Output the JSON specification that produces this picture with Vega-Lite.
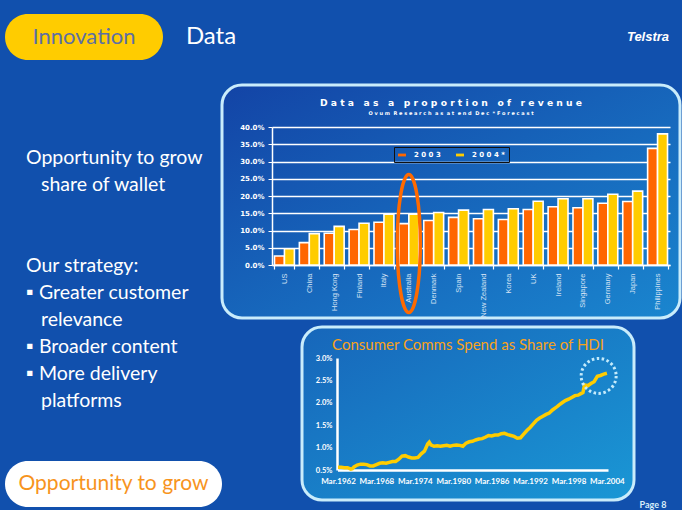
{
  "$schema": "https://vega.github.io/schema/vega-lite/v6.json",
  "background": "#1150ad",
  "padding": {"left": 5, "top": 14, "right": 0, "bottom": 0},
  "title": {"text": "Page 8", "orient": "bottom", "anchor": "end", "frame": "bounds", "offset": -6, "dx": -15, "fontSize": 9, "font": "Lato", "fontWeight": "bold", "color": "#d8eefa"},
  "spacing": 23,
  "vconcat": [
    {
      "spacing": 359,
      "hconcat": [
        {
          "spacing": 0,
          "hconcat": [
            {
              "width": 158, "height": 46,
              "view": {"fill": "#ffcc00", "stroke": null, "cornerRadius": 23},
              "data": {"values": [{"label": "Innovation"}]},
              "mark": {"type": "text", "font": "Lato", "fontSize": 22, "color": "#5d6fa4"},
              "encoding": {"text": {"field": "label", "type": "nominal"}}
            },
            {
              "width": 96, "height": 46,
              "data": {"values": [{"label": "Data"}]},
              "mark": {"type": "text", "font": "Lato", "fontSize": 24, "color": "white"},
              "encoding": {"text": {"field": "label", "type": "nominal"}}
            }
          ]
        },
        {
          "width": 60, "height": 46,
          "data": {"values": [{"label": "Telstra"}]},
          "mark": {"type": "text", "font": "Liberation Sans", "fontSize": 13, "fontWeight": "bold", "fontStyle": "italic", "color": "white"},
          "encoding": {"text": {"field": "label", "type": "nominal"}}
        }
      ]
    },
    {
      "spacing": -6,
      "hconcat": [
        {
          "spacing": 50,
          "vconcat": [
            {
              "width": 42, "height": 128,
              "data": {"values": [{"lines": ["Opportunity to grow", "\u200b\u00a0\u00a0\u00a0share of wallet", "\u200b", "\u200b", "Our strategy:", "\u25aa Greater customer", "\u200b\u00a0\u00a0\u00a0relevance", "\u25aa Broader content", "\u25aa More delivery", "\u200b\u00a0\u00a0\u00a0platforms"]}]},
              "mark": {"type": "text", "align": "left", "baseline": "top", "font": "Lato", "fontSize": 19.5, "lineHeight": 27, "color": "white"},
              "encoding": {"text": {"field": "lines", "type": "nominal"}}
            },
            {
              "width": 217, "height": 46,
              "view": {"fill": "white", "stroke": null, "cornerRadius": 23},
              "data": {"values": [{"label": "Opportunity to grow"}]},
              "mark": {"type": "text", "font": "Lato", "fontSize": 21, "color": "#f7941d"},
              "encoding": {"text": {"field": "label", "type": "nominal"}}
            }
          ]
        },
        {
          "spacing": 3,
          "vconcat": [
            {
              "width": 458, "height": 233,
              "view": {"stroke": "#c9ecfb", "strokeWidth": 3, "cornerRadius": 20, "fill": {"gradient": "linear", "x1": 0, "y1": 0, "x2": 1, "y2": 1, "stops": [{"offset": 0, "color": "#1344a6"}, {"offset": 1, "color": "#1a86cf"}]}},
              "title": {
                "text": "D a t a\u00a0\u00a0\u00a0a s\u00a0\u00a0\u00a0a\u00a0\u00a0\u00a0p r o p o r t i o n\u00a0\u00a0\u00a0o f\u00a0\u00a0\u00a0r e v e n u e",
                "subtitle": "O v u m\u00a0\u00a0R e s e a r c h\u00a0\u00a0a s\u00a0\u00a0a t\u00a0\u00a0e n d\u00a0\u00a0D e c\u00a0\u00a0* F o r e c a s t",
                "anchor": "middle", "frame": "group", "orient": "top", "offset": -31,
                "font": "DejaVu Sans", "fontSize": 9.2, "fontWeight": "bold", "color": "white",
                "subtitleFont": "DejaVu Sans", "subtitleFontSize": 5, "subtitleFontWeight": "bold", "subtitleColor": "white", "subtitlePadding": 3
              },
              "layer": [
                {
                  "data": {"values": [
                    {"country": "US", "series": "2003", "share": 2.6}, {"country": "US", "series": "2004*", "share": 4.7},
                    {"country": "China", "series": "2003", "share": 6.5}, {"country": "China", "series": "2004*", "share": 9.1},
                    {"country": "Hong Kong", "series": "2003", "share": 9.2}, {"country": "Hong Kong", "series": "2004*", "share": 11.2},
                    {"country": "Finland", "series": "2003", "share": 10.3}, {"country": "Finland", "series": "2004*", "share": 12.1},
                    {"country": "Italy", "series": "2003", "share": 12.4}, {"country": "Italy", "series": "2004*", "share": 14.7},
                    {"country": "Australia", "series": "2003", "share": 12.0}, {"country": "Australia", "series": "2004*", "share": 14.7},
                    {"country": "Denmark", "series": "2003", "share": 12.9}, {"country": "Denmark", "series": "2004*", "share": 15.2},
                    {"country": "Spain", "series": "2003", "share": 13.8}, {"country": "Spain", "series": "2004*", "share": 15.9},
                    {"country": "New Zealand", "series": "2003", "share": 13.4}, {"country": "New Zealand", "series": "2004*", "share": 16.1},
                    {"country": "Korea", "series": "2003", "share": 13.2}, {"country": "Korea", "series": "2004*", "share": 16.3},
                    {"country": "UK", "series": "2003", "share": 16.1}, {"country": "UK", "series": "2004*", "share": 18.5},
                    {"country": "Ireland", "series": "2003", "share": 16.9}, {"country": "Ireland", "series": "2004*", "share": 19.2},
                    {"country": "Singapore", "series": "2003", "share": 16.6}, {"country": "Singapore", "series": "2004*", "share": 19.2},
                    {"country": "Germany", "series": "2003", "share": 17.9}, {"country": "Germany", "series": "2004*", "share": 20.5},
                    {"country": "Japan", "series": "2003", "share": 18.4}, {"country": "Japan", "series": "2004*", "share": 21.4},
                    {"country": "Philippines", "series": "2003", "share": 33.8}, {"country": "Philippines", "series": "2004*", "share": 38.0}
                  ]},
                  "mark": {"type": "bar", "stroke": "white", "strokeWidth": 1.6},
                  "encoding": {
                    "x": {
                      "field": "country", "type": "nominal",
                      "scale": {"domain": ["US", "China", "Hong Kong", "Finland", "Italy", "Australia", "Denmark", "Spain", "New Zealand", "Korea", "UK", "Ireland", "Singapore", "Germany", "Japan", "Philippines"], "range": [50, 448], "paddingInner": 0.2, "paddingOuter": 0.1},
                      "axis": {"orient": "bottom", "offset": -53, "title": null, "labelAngle": -90, "labelAlign": "right", "labelBaseline": "middle", "labelColor": "#d4e2f4", "labelFontSize": 7.5, "labelFont": "Liberation Sans", "domainColor": "white", "domainWidth": 1.5, "tickColor": "white", "tickSize": 4, "tickWidth": 1.2, "tickBand": "extent", "labelPadding": 4, "grid": false, "labelOverlap": false}
                    },
                    "xOffset": {"field": "series", "type": "nominal", "scale": {"paddingInner": 0}},
                    "y": {
                      "field": "share", "type": "quantitative",
                      "scale": {"domain": [0, 40], "range": [180, 42], "nice": false},
                      "axis": {"offset": -50, "title": null, "values": [0, 5, 10, 15, 20, 25, 30, 35, 40], "tickCount": 20, "labelExpr": "format(datum.value, '.1f') + '%'", "labelOverlap": false, "grid": true, "gridColor": "white", "gridWidth": 1.3, "gridOpacity": 1, "domainColor": "white", "domainWidth": 1.5, "tickColor": "white", "tickSize": 4, "labelColor": "white", "labelFontSize": 7, "labelFontWeight": "bold", "labelFont": "DejaVu Sans", "labelPadding": 4}
                    },
                    "color": {
                      "field": "series", "type": "nominal",
                      "scale": {"domain": ["2003", "2004*"], "range": ["#ff6600", "#ffcc00"]},
                      "legend": {"orient": "none", "legendX": 389, "legendY": 133, "direction": "horizontal", "title": null, "strokeColor": "#101010", "padding": 4, "labelColor": "white", "labelFontSize": 7, "labelFontWeight": "bold", "labelFont": "DejaVu Sans", "symbolType": "M-1,-0.35H1V0.35H-1Z", "symbolSize": 64, "symbolStrokeWidth": 0, "labelExpr": "join(split(datum.label, ''), ' ')", "columnPadding": 15, "labelOffset": 8}
                    }
                  }
                },
                {
                  "data": {"values": [{"country": "Australia", "share": 6.2}]},
                  "mark": {"type": "point", "shape": "M0,-1A0.167,1,0,1,1,0,1A0.167,1,0,1,1,0,-1Z", "filled": false, "size": 19044, "strokeWidth": 3.5, "color": "#ff6a00", "opacity": 1},
                  "encoding": {
                    "x": {"field": "country", "type": "nominal"},
                    "y": {"field": "share", "type": "quantitative"}
                  }
                }
              ]
            },
            {
              "spacing": 77,
              "hconcat": [
                {"width": 1, "height": 1, "data": {"values": []}, "mark": "point"},
                {
                  "width": 332, "height": 173,
                  "view": {"stroke": "#c9ecfb", "strokeWidth": 3, "cornerRadius": 20, "fill": {"gradient": "linear", "x1": 0, "y1": 0, "x2": 1, "y2": 1, "stops": [{"offset": 0, "color": "#1766ba"}, {"offset": 1, "color": "#1a97d5"}]}},
                  "title": {"text": "Consumer Comms Spend as Share of HDI", "anchor": "middle", "frame": "group", "orient": "top", "offset": -26, "font": "Lato", "fontSize": 15, "fontWeight": "normal", "color": "#f7a21b"},
                  "layer": [
                    {
                      "data": {"values": [
                        {"quarter": "1962-03-01", "share": 0.56}, {"quarter": "1962-09-01", "share": 0.56}, {"quarter": "1963-03-01", "share": 0.55}, {"quarter": "1963-09-01", "share": 0.55},
                        {"quarter": "1964-03-01", "share": 0.52}, {"quarter": "1964-06-01", "share": 0.53}, {"quarter": "1964-09-01", "share": 0.57}, {"quarter": "1965-03-01", "share": 0.61},
                        {"quarter": "1965-09-01", "share": 0.63}, {"quarter": "1966-03-01", "share": 0.63}, {"quarter": "1966-09-01", "share": 0.62}, {"quarter": "1967-03-01", "share": 0.59},
                        {"quarter": "1967-09-01", "share": 0.59}, {"quarter": "1968-03-01", "share": 0.62}, {"quarter": "1968-09-01", "share": 0.65}, {"quarter": "1969-03-01", "share": 0.66},
                        {"quarter": "1969-09-01", "share": 0.65}, {"quarter": "1970-03-01", "share": 0.67}, {"quarter": "1970-09-01", "share": 0.69}, {"quarter": "1971-03-01", "share": 0.69},
                        {"quarter": "1971-09-01", "share": 0.74}, {"quarter": "1972-03-01", "share": 0.81}, {"quarter": "1972-09-01", "share": 0.82}, {"quarter": "1973-03-01", "share": 0.79},
                        {"quarter": "1973-09-01", "share": 0.77}, {"quarter": "1974-03-01", "share": 0.77}, {"quarter": "1974-09-01", "share": 0.78}, {"quarter": "1975-03-01", "share": 0.86},
                        {"quarter": "1975-09-01", "share": 0.92}, {"quarter": "1976-03-01", "share": 1.08}, {"quarter": "1976-06-01", "share": 1.12}, {"quarter": "1976-09-01", "share": 1.06},
                        {"quarter": "1977-03-01", "share": 1.03}, {"quarter": "1977-09-01", "share": 1.04}, {"quarter": "1978-03-01", "share": 1.03}, {"quarter": "1978-09-01", "share": 1.04},
                        {"quarter": "1979-03-01", "share": 1.05}, {"quarter": "1979-09-01", "share": 1.03}, {"quarter": "1980-03-01", "share": 1.05}, {"quarter": "1980-09-01", "share": 1.06},
                        {"quarter": "1981-03-01", "share": 1.05}, {"quarter": "1981-09-01", "share": 1.03}, {"quarter": "1982-03-01", "share": 1.10}, {"quarter": "1982-09-01", "share": 1.13},
                        {"quarter": "1983-03-01", "share": 1.14}, {"quarter": "1983-09-01", "share": 1.17}, {"quarter": "1984-03-01", "share": 1.19}, {"quarter": "1984-09-01", "share": 1.20},
                        {"quarter": "1985-03-01", "share": 1.23}, {"quarter": "1985-09-01", "share": 1.27}, {"quarter": "1986-03-01", "share": 1.26}, {"quarter": "1986-09-01", "share": 1.28},
                        {"quarter": "1987-03-01", "share": 1.28}, {"quarter": "1987-09-01", "share": 1.31}, {"quarter": "1988-03-01", "share": 1.32}, {"quarter": "1988-09-01", "share": 1.29},
                        {"quarter": "1989-03-01", "share": 1.27}, {"quarter": "1989-09-01", "share": 1.25}, {"quarter": "1990-03-01", "share": 1.21}, {"quarter": "1990-09-01", "share": 1.22},
                        {"quarter": "1991-03-01", "share": 1.30}, {"quarter": "1991-09-01", "share": 1.38}, {"quarter": "1992-03-01", "share": 1.45}, {"quarter": "1992-09-01", "share": 1.53},
                        {"quarter": "1993-03-01", "share": 1.61}, {"quarter": "1993-09-01", "share": 1.66}, {"quarter": "1994-03-01", "share": 1.70}, {"quarter": "1994-09-01", "share": 1.74},
                        {"quarter": "1995-03-01", "share": 1.77}, {"quarter": "1995-09-01", "share": 1.84}, {"quarter": "1996-03-01", "share": 1.89}, {"quarter": "1996-09-01", "share": 1.95},
                        {"quarter": "1997-03-01", "share": 2.00}, {"quarter": "1997-09-01", "share": 2.05}, {"quarter": "1998-03-01", "share": 2.08}, {"quarter": "1998-09-01", "share": 2.12},
                        {"quarter": "1999-03-01", "share": 2.16}, {"quarter": "1999-09-01", "share": 2.17}, {"quarter": "2000-03-01", "share": 2.21}, {"quarter": "2000-06-01", "share": 2.23},
                        {"quarter": "2000-09-01", "share": 2.40}, {"quarter": "2001-03-01", "share": 2.38}, {"quarter": "2001-09-01", "share": 2.43}, {"quarter": "2002-03-01", "share": 2.47},
                        {"quarter": "2002-09-01", "share": 2.59}, {"quarter": "2003-03-01", "share": 2.61}, {"quarter": "2003-09-01", "share": 2.64}, {"quarter": "2004-03-01", "share": 2.66}
                      ]},
                      "mark": {"type": "line", "color": "#ffcc00", "strokeWidth": 3.5},
                      "encoding": {
                        "x": {
                          "field": "quarter", "type": "temporal",
                          "scale": {"type": "utc", "domain": [{"year": 1962, "month": 2, "date": 1, "utc": true}, {"year": 2004, "month": 5, "date": 1, "utc": true}], "range": [35.5, 306], "nice": false},
                          "axis": {"orient": "bottom", "offset": -30, "title": null, "values": [{"year": 1962, "month": 3, "date": 1, "utc": true}, {"year": 1968, "month": 3, "date": 1, "utc": true}, {"year": 1974, "month": 3, "date": 1, "utc": true}, {"year": 1980, "month": 3, "date": 1, "utc": true}, {"year": 1986, "month": 3, "date": 1, "utc": true}, {"year": 1992, "month": 3, "date": 1, "utc": true}, {"year": 1998, "month": 3, "date": 1, "utc": true}, {"year": 2004, "month": 3, "date": 1, "utc": true}], "tickCount": 20, "format": "%b.%Y", "grid": false, "ticks": false, "domainColor": "white", "domainWidth": 2.5, "labelColor": "white", "labelFontSize": 8, "labelFont": "Lato", "labelFontWeight": "bold", "labelPadding": 7, "labelOverlap": false, "labelFlush": false}
                        },
                        "y": {
                          "field": "share", "type": "quantitative",
                          "scale": {"domain": [0.5, 3], "range": [143, 31], "nice": false, "zero": false},
                          "axis": {"offset": -35, "title": null, "values": [0.5, 1, 1.5, 2, 2.5, 3], "tickCount": 20, "labelExpr": "format(datum.value, '.1f') + '%'", "labelOverlap": false, "grid": false, "ticks": false, "domainColor": "white", "domainWidth": 2.5, "labelColor": "white", "labelFontSize": 7.5, "labelFont": "Lato", "labelFontWeight": "bold", "labelPadding": 5}
                        }
                      }
                    },
                    {
                      "data": {"values": [{"quarter": "2002-11-15", "share": 2.6}]},
                      "mark": {"type": "point", "shape": "circle", "size": 1225, "filled": false, "color": "#c4ebfb", "strokeWidth": 3, "strokeDash": [2.5, 2.5], "opacity": 1},
                      "encoding": {
                        "x": {"field": "quarter", "type": "temporal"},
                        "y": {"field": "share", "type": "quantitative"}
                      }
                    }
                  ]
                }
              ]
            }
          ]
        }
      ]
    }
  ],
  "config": {"view": {"stroke": null}, "font": "Lato"}
}
